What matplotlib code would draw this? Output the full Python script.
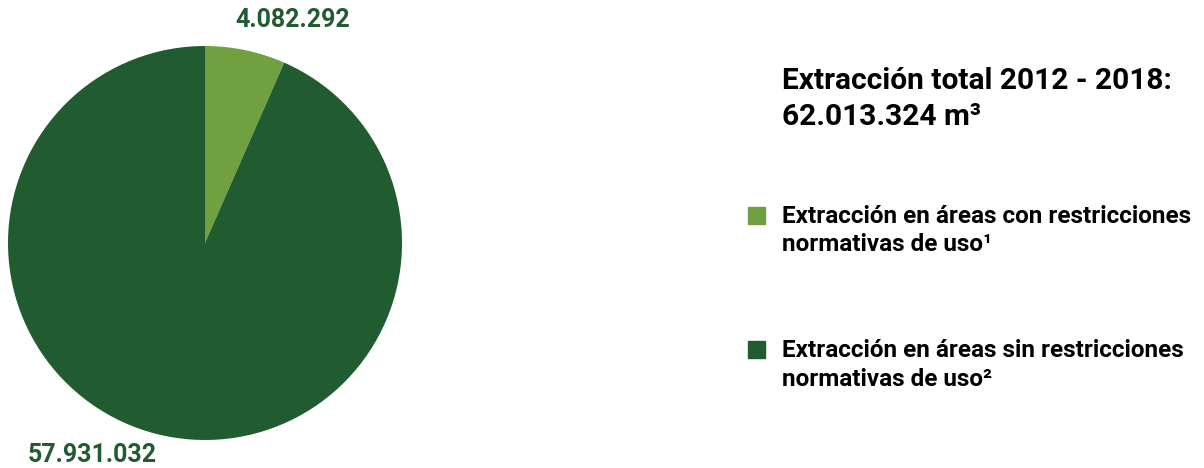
import matplotlib.pyplot as plt

labels = ["Extracción en áreas con restricciones\nnormativas de uso¹",
          "Extracción en áreas sin restricciones\nnormativas de uso²"]
values = [4082292, 57931032]
value_labels = ["4.082.292", "57.931.032"]
colors = ["#71a040", "#215b30"]
title = "Extracción total 2012 - 2018:\n62.013.324 m³"

plt.rcParams['font.family'] = ['Roboto', 'DejaVu Sans']


def main():
    fig = plt.figure(figsize=(12.04, 4.68), dpi=100)
    W, H = 1204, 468
    ax = fig.add_axes([8 / W, 28 / H, 394 / W, 394 / H])
    ax.pie(values, colors=colors, startangle=90, counterclock=False, radius=1)
    ax.set_xlim(-1, 1)
    ax.set_ylim(-1, 1)
    ax.set_aspect('equal')
    ax.axis('off')

    # value labels
    ax.text(0.447, 1.132, value_labels[0], ha='center', va='center', fontsize=18,
            fontweight='bold', color="#215b30", clip_on=False)
    ax.text(-0.574, -1.076, value_labels[1], ha='center', va='center', fontsize=18,
            fontweight='bold', color="#215b30", clip_on=False)

    fig.text(782 / W, 1 - 99 / H, title, ha='left', va='center', fontsize=21.5,
             fontweight='bold', color='black', linespacing=1.32)

    for i, (lab, y) in enumerate(zip(labels, [230.5, 365])):
        fig.patches.append(plt.Rectangle((748 / W, 1 - (y - 15 + 8) / H), 17 / W, 17 / H,
                                         transform=fig.transFigure, color=colors[i]))
        fig.text(782 / W, 1 - y / H, lab, ha='left', va='center', fontsize=17.5,
                 fontweight='bold', color='black', linespacing=1.28)

    fig.savefig("out.png", dpi=100)


if __name__ == '__main__':
    main()
